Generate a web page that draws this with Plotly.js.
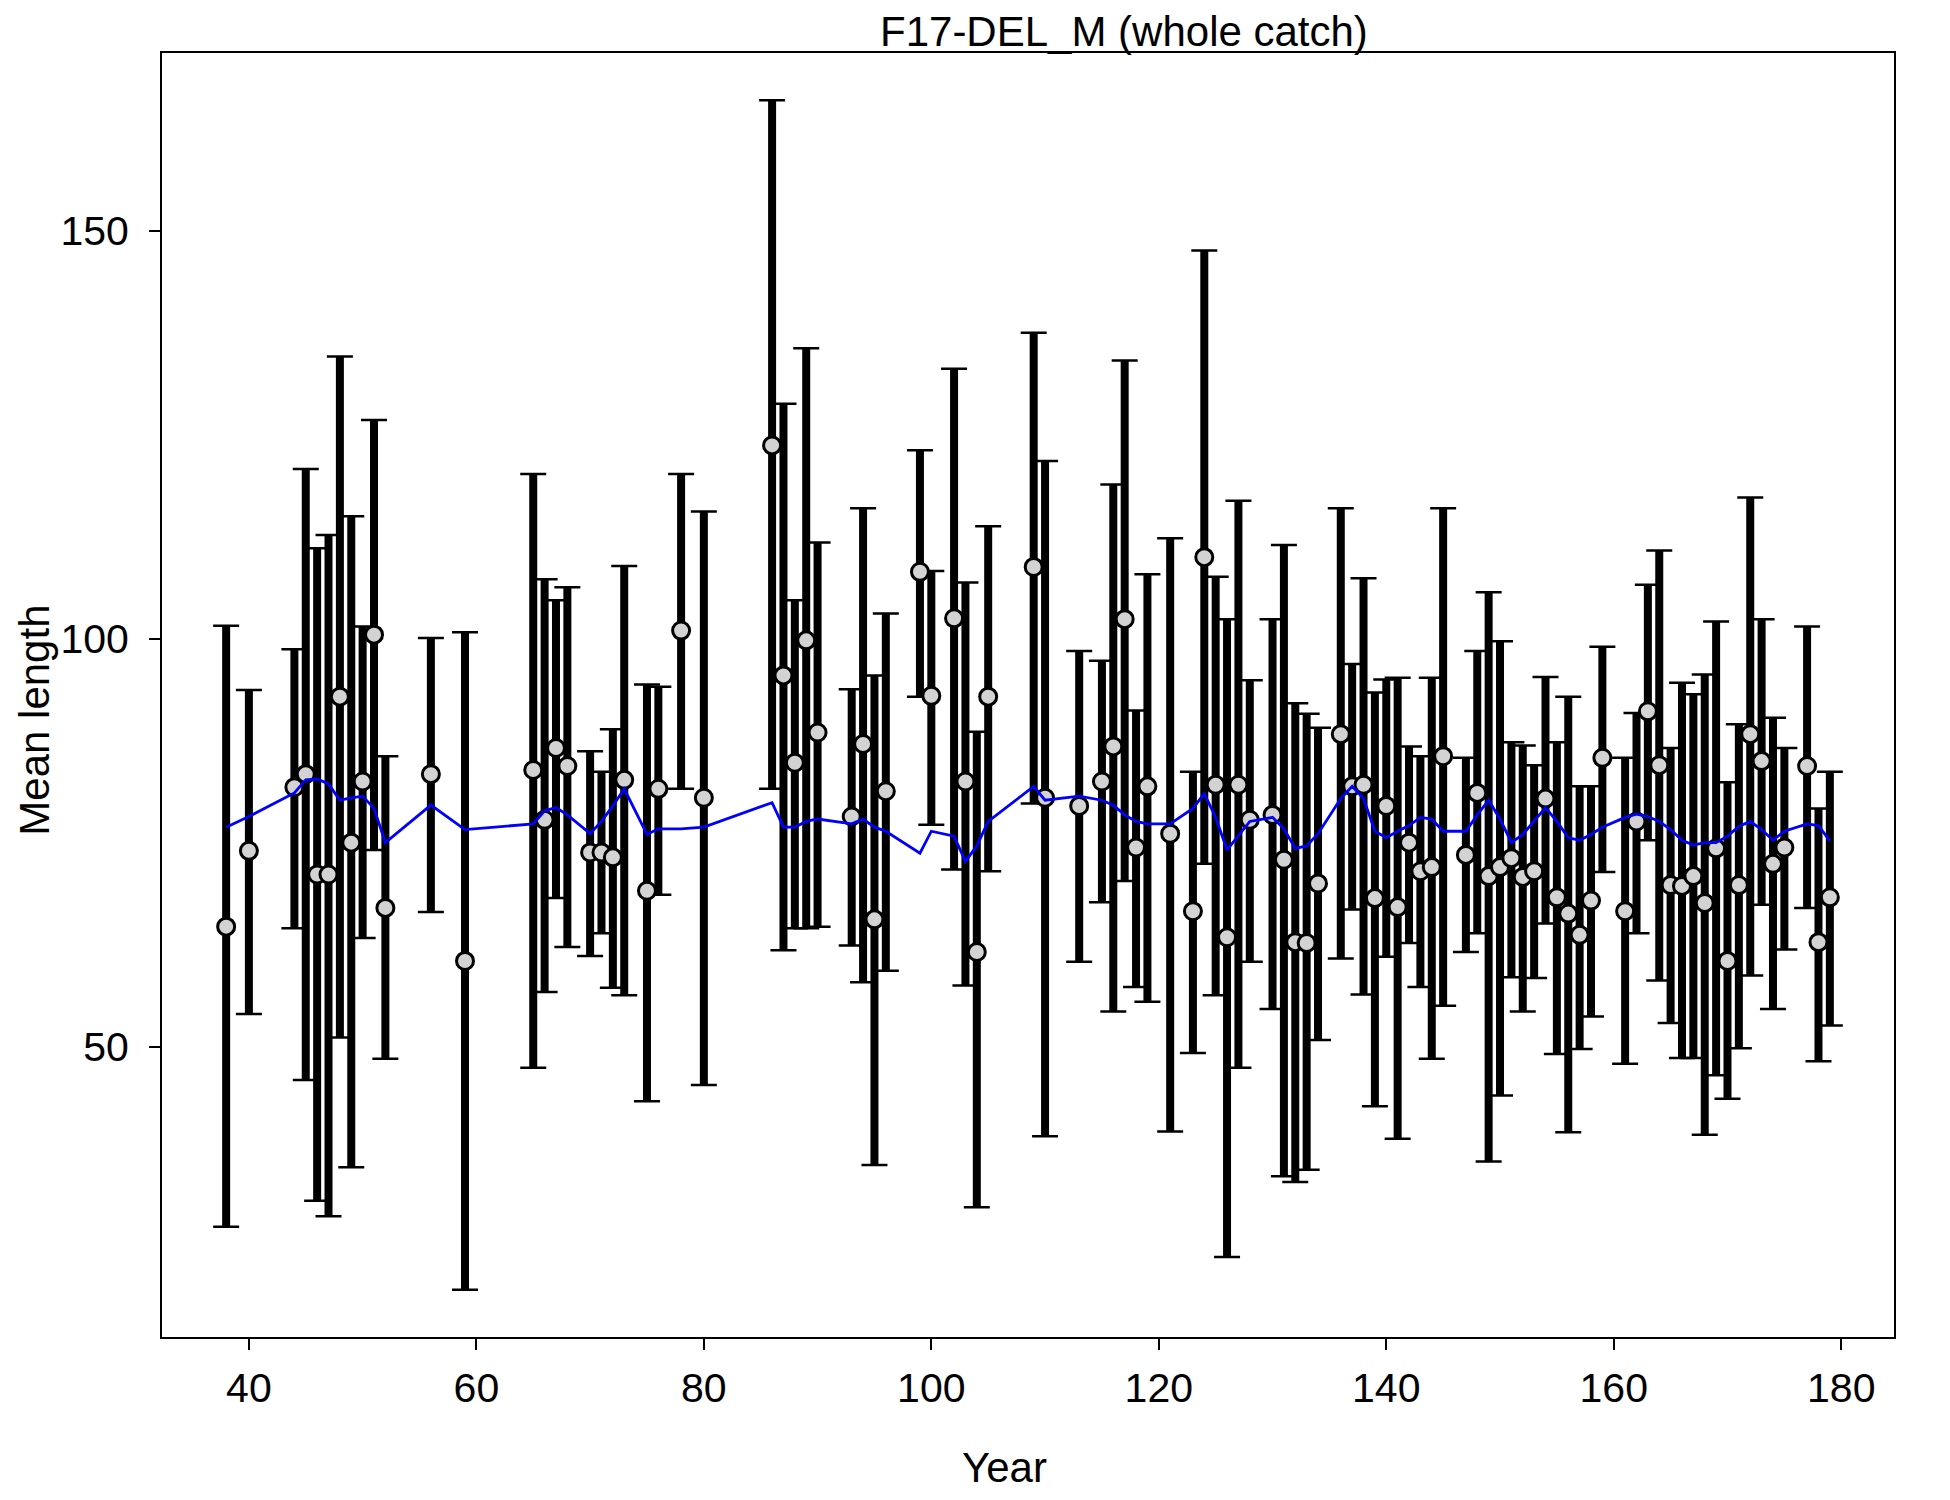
<!DOCTYPE html>
<html>
<head>
<meta charset="utf-8">
<script src="https://cdn.plot.ly/plotly-3.0.1.min.js"></script>
<style>html,body{margin:0;padding:0;background:#fff;}#chart{width:1950px;height:1500px;}</style>
</head>
<body>
<div id="chart"></div>
<script>
const chartTitle = "F17-DEL_M (whole catch)";
const xLabel = "Year";
const yLabel = "Mean length";

const years = [38,40,44,45,46,47,48,49,50,51,52,56,59,65,66,67,68,70,71,72,73,75,76,78,80,
  86,87,88,89,90,93,94,95,96,99,100,102,103,104,105,109,110,113,115,116,117,118,119,121,
  123,124,125,126,127,128,130,131,132,133,134,136,137,138,139,140,141,142,143,144,145,
  147,148,149,150,151,152,153,154,155,156,157,158,159,161,162,163,164,165,166,167,168,169,
  170,171,172,173,174,175,177,178,179];

const observed = [64.7,74.0,81.8,83.4,71.1,71.1,92.9,75.0,82.5,100.5,67.0,83.4,60.5,83.9,77.8,86.6,84.4,73.8,73.8,73.2,82.7,69.1,81.6,101.0,80.5,
  123.7,95.5,84.8,99.8,88.5,78.2,87.1,65.6,81.3,108.2,93.0,102.5,82.5,61.6,92.9,108.8,80.5,79.5,82.5,86.8,102.4,74.4,81.9,76.1,
  66.6,110.0,82.1,63.4,82.1,77.8,78.4,72.9,62.8,62.7,70.0,88.3,81.9,82.1,68.2,79.5,67.1,75.0,71.5,72.0,85.6,
  73.5,81.1,70.9,72.0,73.1,70.8,71.5,80.4,68.3,66.3,63.7,67.9,85.4,66.6,77.6,91.1,84.5,69.8,69.7,70.9,67.6,74.3,
  60.5,69.8,88.3,85.0,72.4,74.4,84.4,62.8,68.3];

const upperCI = [101.6,93.7,98.7,120.8,111.1,112.7,134.6,115.0,101.5,126.8,85.6,100.1,100.8,120.2,107.3,104.7,106.3,86.2,83.7,88.9,108.9,94.4,94.1,120.2,115.6,
  166.0,128.8,104.7,135.6,111.8,93.8,116.0,95.5,103.1,123.1,108.3,133.1,106.9,88.6,113.8,137.5,121.8,98.5,97.3,118.9,134.1,91.2,107.9,112.3,
  83.7,147.6,107.6,102.4,116.9,94.9,102.4,111.5,92.1,90.8,89.1,116.0,96.9,107.4,93.4,95.0,95.2,86.8,85.6,95.2,116.0,
  85.4,98.5,105.7,99.7,87.3,86.9,84.5,95.3,87.3,92.9,81.9,81.9,99.0,85.4,90.9,106.6,110.8,86.6,94.6,93.2,95.6,102.1,
  82.4,89.5,117.3,102.4,90.3,86.6,101.5,79.2,83.7];

const lowerCI = [27.9,54.0,64.5,45.9,31.1,29.2,51.1,35.2,63.3,74.1,48.5,66.5,20.2,47.4,56.7,68.2,62.2,61.1,63.9,57.2,56.3,43.3,68.6,81.6,45.3,
  81.6,61.8,64.5,64.5,64.7,62.4,57.9,35.5,59.3,92.9,77.2,71.7,57.5,30.3,71.5,79.8,39.0,60.4,67.7,54.3,70.3,57.3,55.5,39.6,
  49.2,72.4,56.3,24.2,47.4,60.4,54.6,34.1,33.4,34.9,50.8,60.8,66.8,56.4,42.7,61.0,38.7,62.7,57.3,48.5,55.0,
  61.6,63.9,35.9,44.0,58.5,54.3,58.4,65.1,49.1,39.5,49.7,53.7,71.4,47.9,63.9,75.3,58.1,52.9,48.6,48.6,39.2,46.5,
  43.6,49.8,58.7,67.4,54.6,61.9,67.0,48.2,52.6];

const expected = [76.9,78.2,81.1,82.7,82.8,82.2,80.2,80.5,80.7,79.2,75.0,79.6,76.6,77.3,78.9,79.3,78.4,76.1,77.6,79.5,81.6,76.0,76.7,76.7,76.9,
  79.9,76.9,76.9,77.6,77.9,77.3,77.9,76.9,76.4,73.7,76.4,75.8,72.7,74.6,77.6,81.9,80.2,80.7,80.2,79.6,78.4,77.6,77.3,77.3,
  79.2,81.0,78.1,74.1,75.8,77.6,78.1,76.7,74.3,74.6,76.1,80.4,81.9,80.4,76.4,75.6,76.4,77.1,78.1,77.9,76.4,
  76.4,78.4,80.2,77.9,75.0,76.0,77.6,79.3,77.6,75.6,75.3,76.0,76.9,78.1,78.5,78.2,77.6,76.6,75.3,74.7,75.0,75.0,
  75.8,77.0,77.6,76.6,75.3,76.4,77.3,77.1,75.2];

const xTicks = [40,60,80,100,120,140,160,180];
const yTicks = [50,100,150];

const plusErr = upperCI.map((u, i) => u - observed[i]);
const minusErr = observed.map((v, i) => v - lowerCI[i]);

const FONT = "Liberation Sans, Arial, sans-serif";

const stems = {
  x: years, y: observed, type: 'scatter', mode: 'markers',
  marker: {size: 1, color: 'rgba(0,0,0,0)'},
  error_y: {type: 'data', symmetric: false, array: plusErr, arrayminus: minusErr,
            color: '#000000', thickness: 8, width: 0},
  hoverinfo: 'skip', showlegend: false
};
const caps = {
  x: years, y: observed, type: 'scatter', mode: 'markers',
  marker: {size: 1, color: 'rgba(0,0,0,0)'},
  error_y: {type: 'data', symmetric: false, array: plusErr, arrayminus: minusErr,
            color: '#000000', thickness: 2.5, width: 13},
  hoverinfo: 'skip', showlegend: false
};
const points = {
  x: years, y: observed, type: 'scatter', mode: 'markers',
  marker: {size: 17, color: '#d3d3d3', line: {color: '#000000', width: 3}},
  showlegend: false
};
const expLine = {
  x: years, y: expected, type: 'scatter', mode: 'lines',
  line: {color: '#0000ff', width: 2.8},
  showlegend: false
};

const axisCommon = {
  showgrid: false, zeroline: false,
  showline: true, linecolor: '#000000', linewidth: 2, mirror: true,
  ticks: 'outside', ticklen: 11, tickwidth: 2, tickcolor: '#000000',
  tickfont: {family: FONT, size: 41, color: '#000000'},
  tickmode: 'array'
};

const layout = {
  width: 1950, height: 1500,
  paper_bgcolor: '#ffffff', plot_bgcolor: '#ffffff',
  margin: {l: 162, r: 56, t: 53, b: 163, pad: 0},
  font: {family: FONT, color: '#000000'},
  title: {text: chartTitle, font: {family: FONT, size: 42, color: '#000000'},
          xref: 'paper', x: 0.5554, xanchor: 'center',
          yref: 'container', y: 1 - 31/1500, yanchor: 'middle'},
  xaxis: Object.assign({}, axisCommon, {
    range: [32.36, 184.64], tickvals: xTicks, ticktext: xTicks.map(String),
    ticklabelstandoff: 3
  }),
  yaxis: Object.assign({}, axisCommon, {
    range: [14.4, 171.8], tickvals: yTicks, ticktext: yTicks.map(String),
    ticklabelstandoff: 12
  }),
  annotations: [
    {text: xLabel, xref: 'paper', yref: 'paper', x: 0.4867, y: -(1467 - 1337) / 1284,
     xanchor: 'center', yanchor: 'middle', showarrow: false,
     font: {family: FONT, size: 42, color: '#000000'}},
    {text: yLabel, xref: 'paper', yref: 'paper', x: -(162 - 35) / 1732, y: 0.480,
     xanchor: 'center', yanchor: 'middle', textangle: -90, showarrow: false,
     font: {family: FONT, size: 42, color: '#000000'}}
  ]
};

Plotly.newPlot('chart', [stems, caps, points, expLine], layout, {staticPlot: true, displayModeBar: false});
</script>
</body>
</html>
